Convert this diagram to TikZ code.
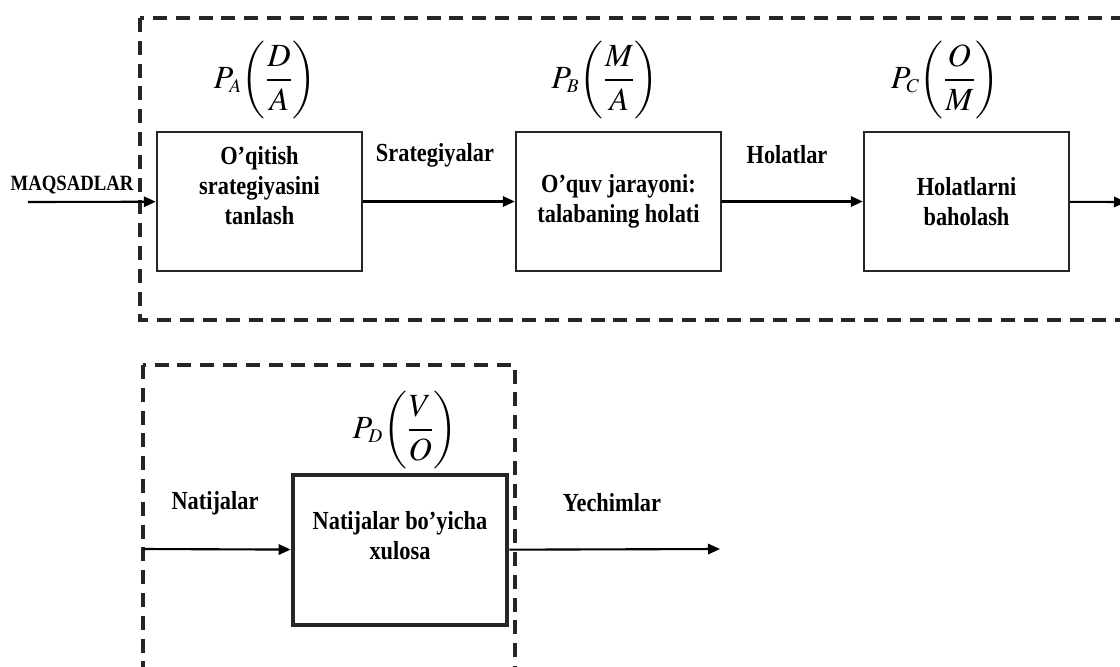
\documentclass[tikz,border=0pt]{standalone}
\usepackage{amsmath}
\usepackage{mathptmx}
\usepackage{fontspec}
\setmainfont{Liberation Serif}[FakeStretch=0.86]
\usetikzlibrary{arrows.meta}

\begin{document}
\begin{tikzpicture}
[   x=0.025cm, y=-0.025cm,
    blok/.style={draw=black!85,line width=1.7pt,minimum width=5.125cm,minimum height=3.475cm},
    matn/.style={align=center,font=\fontsize{18.5}{21.5}\selectfont\bfseries},
    formula/.style={font=\fontsize{23}{28}\selectfont},
    ramka/.style={draw=black!85,line width=2.8pt,dash pattern=on 0.35cm off 0.22cm},
    strelka/.style={line width=1.5pt,-{Triangle[length=0.3cm,width=0.26cm]}},
]
    \clip (0,0) rectangle (1120,666);
    % dashed frames
    \draw[ramka] (140,18) rectangle (1140,320);
    \draw[ramka] (143,365) rectangle (515,690);
    % upper chain
    \node[blok] (b1) at (259.5,201.5) {};
    \node[blok] (b2) at (618.5,201.5) {};
    \node[blok] (b3) at (966.5,201.5) {};
    \node[matn] (t1) at ([yshift=0.4cm]b1.center) {O’qitish\\srategiyasini\\tanlash};
    \node[matn] (t2) at (b2.center) {O’quv jarayoni:\\talabaning holati};
    \node[matn] (t3) at (b3.center) {Holatlarni\\baholash};
    \coordinate (in) at (28,202);
    \coordinate (out) at (1126,202);
    \foreach \a/\b in {in/b1,b1/b2,b2/b3,b3/out}
    {   \draw[strelka] (\a) -- (\b);
    }
    \node[matn,font=\fontsize{15.5}{18}\selectfont\bfseries] (l0) at (72,185) {MAQSADLAR};
    \node[matn] (l1) at (435,155) {Srategiyalar};
    \node[matn] (l2) at (787,155) {Holatlar};
    \node[formula] (pa) at (265,80) {$P_{\scriptscriptstyle A}\!\left(\dfrac{D}{A}\right)$};
    \node[formula] (pb) at (605,80) {$P_{\scriptscriptstyle B}\!\left(\dfrac{M}{A}\right)$};
    \node[formula] (pc) at (945,80) {$P_{\scriptscriptstyle C}\!\left(\dfrac{O}{M}\right)$};
    % lower part
    \node[blok,line width=3.4pt,minimum width=5.35cm,minimum height=3.75cm] (b4) at (400,550) {};
    \node[matn] (t4) at ([yshift=0.35cm]b4.center) {Natijalar bo’yicha\\xulosa};
    \coordinate (in2) at (143,549);
    \coordinate (out2) at (720,549);
    \draw[strelka] (in2) -- (b4);
    \draw[strelka] (b4) -- (out2);
    \node[matn] (l3) at (215,503) {Natijalar};
    \node[matn] (l4) at (612,503) {Yechimlar};
    \node[formula] (pd) at (405,430) {$P_{\scriptscriptstyle D}\!\left(\dfrac{V}{O}\right)$};
\end{tikzpicture}
\end{document}
